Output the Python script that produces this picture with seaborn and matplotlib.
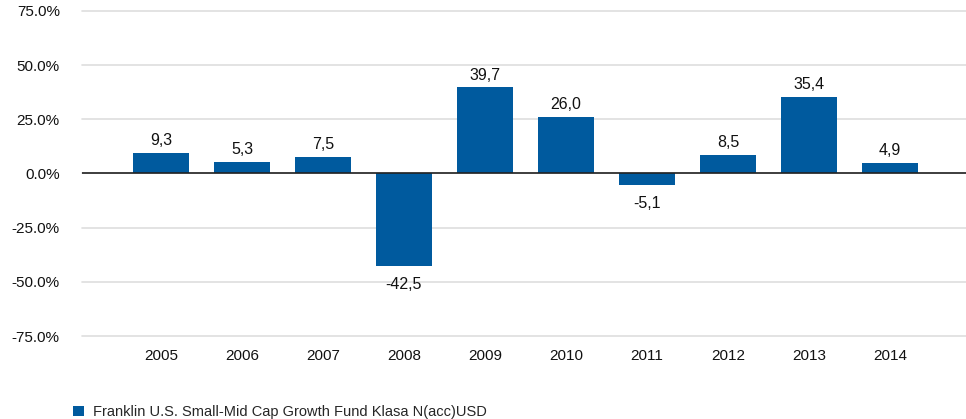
import matplotlib.pyplot as plt
import pandas as pd
import seaborn as sns
from matplotlib.ticker import FuncFormatter
from matplotlib.patches import Patch

# fund returns per year
years = ['2005', '2006', '2007', '2008', '2009', '2010', '2011', '2012', '2013', '2014']
returns = [9.3, 5.3, 7.5, -42.5, 39.7, 26.0, -5.1, 8.5, 35.4, 4.9]
fund = 'Franklin U.S. Small-Mid Cap Growth Fund Klasa N(acc)USD'
y_ticks = [-75, -50, -25, 0, 25, 50, 75]

bar_color = '#005A9E'

df = pd.DataFrame({'year': years, 'value': returns, 'fund': fund})

sns.set_style('white')
plt.rcParams['font.family'] = ['Liberation Sans', 'DejaVu Sans']

fig = plt.figure(figsize=(9.66, 4.19), dpi=100)
ax = fig.add_axes([82 / 966, 1 - 336 / 419, 1 - 82 / 966, 325 / 419])

sns.barplot(data=df, x='year', y='value', hue='fund', palette=[bar_color],
            width=0.69, dodge=False, saturation=1, linewidth=0, ax=ax, legend=False)

ax.set_ylim(-75, 75)
ax.set_xlim(-0.975, 9.94)
ax.set_yticks(y_ticks)
ax.yaxis.set_major_formatter(FuncFormatter(lambda v, p: f'{v:.1f}%'))
ax.grid(axis='y', color='#dedede', linewidth=1.2)
for gl in ax.get_ygridlines():
    gl.set_clip_on(False)
ax.set_axisbelow(True)
ax.axhline(0, color='#222222', linewidth=1.2, zorder=3)
for s in ax.spines.values():
    s.set_visible(False)
ax.tick_params(axis='both', length=0, labelsize=11, colors='#111111')
ax.tick_params(axis='y', pad=16)
ax.tick_params(axis='x', pad=9.5)
ax.set_xlabel('')
ax.set_ylabel('')

# value labels with decimal comma, a bit more room under negative bars
for container in ax.containers:
    for bar, v in zip(container, container.datavalues):
        txt = f'{v:.1f}'.replace('.', ',')
        x = bar.get_x() + bar.get_width() / 2
        if v >= 0:
            ax.annotate(txt, (x, v), xytext=(0, 3.5), textcoords='offset points',
                        ha='center', va='bottom', fontsize=11.5, color='#111111')
        else:
            ax.annotate(txt, (x, v), xytext=(0, -8), textcoords='offset points',
                        ha='center', va='top', fontsize=11.5, color='#111111')

# legend at the bottom
handle = Patch(facecolor=bar_color, edgecolor='none')
fig.legend([handle], [fund], loc='lower left', bbox_to_anchor=(67 / 966, -0.014),
           frameon=False, fontsize=10.5, handlelength=0.75, handleheight=0.75,
           handletextpad=0.6, borderaxespad=0)

fig.savefig('out.png', dpi=100)
